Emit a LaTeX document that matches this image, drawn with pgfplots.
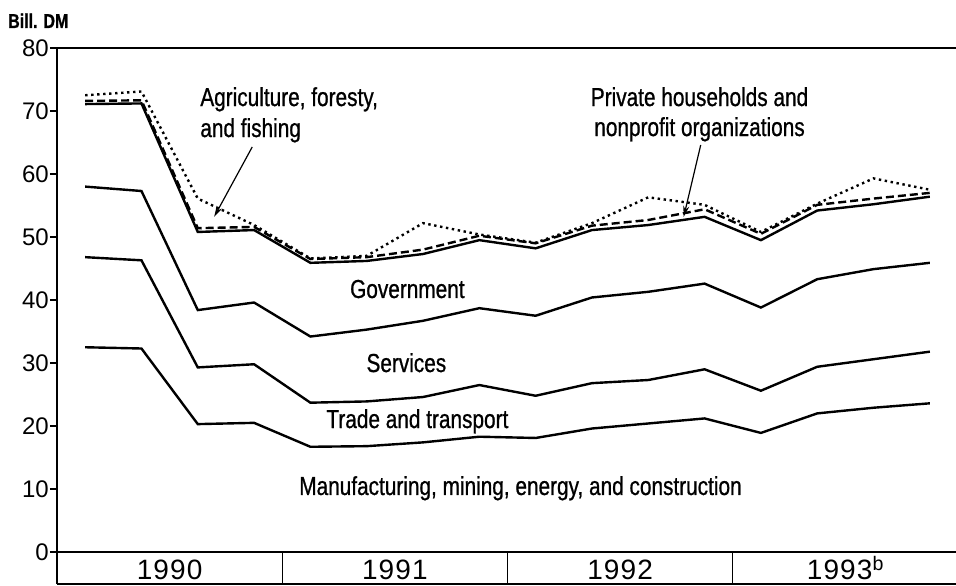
\documentclass[border=0pt]{standalone}
\usepackage{fontspec}
\setmainfont{Liberation Sans}
\newfontfamily\narrow[FakeStretch=0.8, FakeBold=0.8]{Liberation Sans}
\newfontfamily\yearfont[LetterSpace=4]{Liberation Sans}
\usepackage{pgfplots}
\pgfplotsset{compat=1.18}
\usetikzlibrary{arrows.meta}

\pgfplotstableread{
x    manu  trade serv  gov   priv  agri
0.5  32.5  46.8  58.0  71.1  71.6  72.5
1.5  32.3  46.3  57.3  71.2  71.7  73.1
2.5  20.3  29.3  38.4  50.8  51.4  56.1
3.5  20.5  29.8  39.6  51.1  51.6  51.9
4.5  16.7  23.7  34.2  45.9  46.5  46.6
5.5  16.8  23.9  35.3  46.2  46.8  47.0
6.5  17.4  24.6  36.7  47.3  48.0  52.2
7.5  18.3  26.5  38.7  49.5  50.2  50.4
8.5  18.1  24.8  37.5  48.2  49.0  49.1
9.5  19.6  26.8  40.4  51.1  51.8  52.2
10.5 20.4  27.3  41.3  51.9  52.7  56.3
11.5 21.2  29.0  42.6  53.2  54.4  55.1
12.5 18.9  25.6  38.8  49.5  50.5  50.8
13.5 22.0  29.4  43.3  54.2  55.1  55.3
14.5 22.9  30.6  44.9  55.2  56.1  59.3
15.5 23.6  31.8  45.9  56.4  57.0  57.5
}\datatable

\begin{document}
\begin{tikzpicture}
\path[use as bounding box] (0,0) rectangle (956bp,586bp);
\node[anchor=base west, inner sep=0pt, font=\narrow\bfseries\fontsize{20bp}{20bp}\selectfont] at (8bp,558bp) {Bill. DM};
\begin{axis}[
  at={(57bp,34bp)}, anchor=south west,
  scale only axis, width=901bp, height=504bp,
  xmin=0, xmax=16, ymin=0, ymax=80,
  clip=false,
  axis line style={line width=1.6bp},
  xtick=\empty,
  ytick={0,10,...,80},
  ytick pos=left,
  tick align=outside,
  major tick length=7bp,
  every tick/.style={line width=1.2bp, black},
  /pgf/number format/assume math mode=true,
  yticklabel style={font=\fontsize{24bp}{24bp}\selectfont, inner sep=0pt, xshift=-1bp},
]
\addplot[black, line width=2.4bp, dash pattern=on 2.4bp off 3.6bp] table[x=x,y=agri] {\datatable};
\addplot[black, line width=2.4bp, dash pattern=on 8bp off 4bp] table[x=x,y=priv] {\datatable};
\addplot[black, line width=2.4bp] table[x=x,y=gov] {\datatable};
\addplot[black, line width=2.4bp] table[x=x,y=serv] {\datatable};
\addplot[black, line width=2.4bp] table[x=x,y=trade] {\datatable};
\addplot[black, line width=2.4bp] table[x=x,y=manu] {\datatable};

% year row
\draw[line width=1.6bp] (axis cs:0,0) -- ++(0bp,-32bp);
\draw[line width=1.4bp] (axis cs:4,0) -- ++(0bp,-32bp);
\draw[line width=1.4bp] (axis cs:8,0) -- ++(0bp,-32bp);
\draw[line width=1.4bp] (axis cs:12,0) -- ++(0bp,-32bp);
\draw[line width=1.6bp] ([yshift=-32bp]axis cs:0,0) -- ([yshift=-32bp]axis cs:16,0);
\node[anchor=base, inner sep=0pt, font=\yearfont\fontsize{28bp}{28bp}\selectfont] at ([yshift=-27bp]axis cs:2,0) {1990};
\node[anchor=base, inner sep=0pt, font=\yearfont\fontsize{28bp}{28bp}\selectfont] at ([yshift=-27bp]axis cs:6,0) {1991};
\node[anchor=base, inner sep=0pt, font=\yearfont\fontsize{28bp}{28bp}\selectfont] at ([yshift=-27bp]axis cs:10,0) {1992};
\node[anchor=base, inner sep=0pt, font=\yearfont\fontsize{28bp}{28bp}\selectfont] at ([yshift=-27bp]axis cs:14,0) {1993\textsuperscript{b}};

% labels
\node[inner sep=0pt, font=\narrow\fontsize{26bp}{26bp}\selectfont, anchor=base west] at (axis cs:2.542,70.79) {Agriculture, foresty,};
\node[inner sep=0pt, font=\narrow\fontsize{26bp}{26bp}\selectfont, anchor=base west] at (axis cs:2.542,65.87) {and fishing};
\draw[line width=1.2bp, -{Stealth[length=11bp,width=6bp]}] (axis cs:3.467,64.29) -- (axis cs:2.791,53.2);
\node[inner sep=0pt, font=\narrow\fontsize{26bp}{26bp}\selectfont, anchor=base] at (axis cs:11.41,70.79) {Private households and};
\node[inner sep=0pt, font=\narrow\fontsize{26bp}{26bp}\selectfont, anchor=base] at (axis cs:11.41,66.03) {nonprofit organizations};
\draw[line width=1.2bp, -{Stealth[length=11bp,width=6bp]}] (axis cs:11.431,64.6) -- (axis cs:11.129,53.2);
\node[inner sep=0pt, font=\narrow\fontsize{26bp}{26bp}\selectfont, anchor=base] at (axis cs:6.222,40.32) {Government};
\node[inner sep=0pt, font=\narrow\fontsize{26bp}{26bp}\selectfont, anchor=base] at (axis cs:6.204,28.57) {Services};
\node[inner sep=0pt, font=\narrow\fontsize{26bp}{26bp}\selectfont, anchor=base] at (axis cs:6.4,19.68) {Trade and transport};
\node[inner sep=0pt, font=\narrow\fontsize{26bp}{26bp}\selectfont, anchor=base] at (axis cs:8.231,9.05) {Manufacturing, mining, energy, and construction};
\end{axis}
\end{tikzpicture}
\end{document}
